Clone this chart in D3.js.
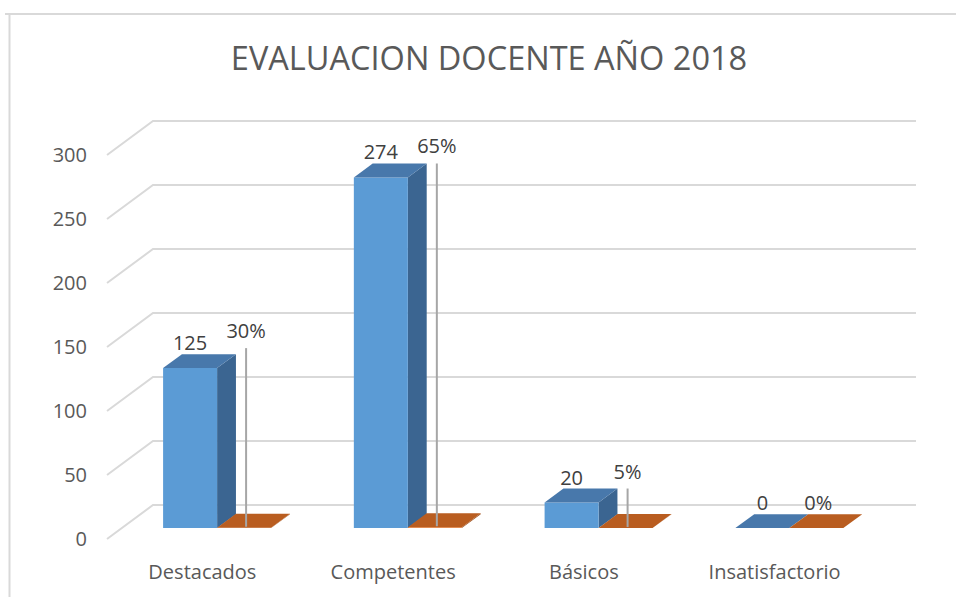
<!DOCTYPE html>
<html>
<head>
<meta charset="utf-8">
<script src="https://cdn.jsdelivr.net/npm/d3@7"></script>
<style>
  html, body { margin: 0; padding: 0; background: #ffffff; }
  svg { display: block; font-family: "Open Sans", "Noto Sans", sans-serif; }
</style>
</head>
<body>
<svg id="chart" width="956" height="597"></svg>
<script>
// Chart data
const categories = ["Destacados", "Competentes", "Básicos", "Insatisfactorio"];
const docentes = [125, 274, 20, 0];
const porcentajes = [0.30, 0.65, 0.05, 0.00];
const yTicks = [0, 50, 100, 150, 200, 250, 300];
const titulo = "EVALUACION DOCENTE AÑO 2018";

// Layout
const W = 956, H = 597;
const DX = 46, DY = 34;          // floor depth projection
const Z0 = 0.32, Z1 = 0.73;      // depth slab occupied by the columns
const BW = 54;                   // column width
const pctLabelLift = [12, 6, 6, 0];

const svg = d3.select("#chart");

const x = d3.scaleBand().domain(categories).range([107, 870]);
const y = d3.scaleLinear().domain([0, 300]).range([539, 155]);

const proj = (xf, v, z) => [xf + z * DX, y(v) - z * DY];
const pts = arr => arr.map(p => p.join(",")).join(" ");

// Chart area border
svg.append("path")
  .attr("d", `M5,14 H${W} M9.5,14 V${H}`)
  .attr("stroke", "#d9d9d9").attr("stroke-width", 2).attr("fill", "none");

// Title
svg.append("text")
  .attr("x", 489).attr("y", 70)
  .attr("text-anchor", "middle")
  .attr("font-size", 32.5).attr("fill", "#595959")
  .text(titulo);

// Gridlines: side wall diagonal + back wall horizontal
const [x0] = x.range();
const xBackRight = x.range()[1] + DX;
svg.append("g").selectAll("polyline")
  .data(yTicks).join("polyline")
  .attr("points", t => pts([proj(x0, t, 0), proj(x0, t, 1), [xBackRight, y(t) - DY]]))
  .attr("fill", "none").attr("stroke", "#d9d9d9").attr("stroke-width", 2);

// Value axis labels
svg.append("g").selectAll("text")
  .data(yTicks).join("text")
  .attr("x", 87).attr("y", t => y(t)).attr("dy", "0.36em")
  .attr("text-anchor", "end")
  .attr("font-size", 20).attr("fill", "#595959")
  .text(d => d);

// Category labels
svg.append("g").selectAll("text")
  .data(categories).join("text")
  .attr("x", c => x(c) + x.bandwidth() / 2).attr("y", 579)
  .attr("text-anchor", "middle")
  .attr("font-size", 20).attr("fill", "#595959")
  .text(c => c);

const series = [
  { values: docentes, front: "#5b9bd5", top: "#4878ab", side: "#3b6591", fmt: d3.format("d") },
  { values: porcentajes, front: "#ed7d31", top: "#b95d20", side: "#9a4a17", fmt: d3.format(".0%") }
];

const barsG = svg.append("g");
categories.forEach((c, i) => {
  series.forEach((s, si) => {
    const v = s.values[i];
    const left = x(c) + x.bandwidth() / 2 - BW + si * BW;
    const right = left + BW;
    const g = barsG.append("g");
    // side face
    g.append("polygon")
      .attr("points", pts([proj(right, 0, Z0), proj(right, v, Z0), proj(right, v, Z1), proj(right, 0, Z1)]))
      .attr("fill", s.side);
    // front face
    g.append("polygon")
      .attr("points", pts([proj(left, 0, Z0), proj(right, 0, Z0), proj(right, v, Z0), proj(left, v, Z0)]))
      .attr("fill", s.front);
    // top face
    g.append("polygon")
      .attr("points", pts([proj(left, v, Z0), proj(right, v, Z0), proj(right, v, Z1), proj(left, v, Z1)]))
      .attr("fill", s.top);
  });
});

// Data labels
const labelsG = svg.append("g");
categories.forEach((c, i) => {
  const left = x(c) + x.bandwidth() / 2 - BW;
  const blueTop = proj(left, docentes[i], Z0)[1];
  const blueX = proj(left + BW / 2, 0, Z0)[0];
  const baseY = blueTop - 18;
  labelsG.append("text")
    .attr("x", blueX).attr("y", baseY)
    .attr("text-anchor", "middle")
    .attr("font-size", 20).attr("fill", "#404040")
    .text(series[0].fmt(docentes[i]));

  const orangeX = proj(left + BW + BW / 2, 0, Z0)[0] + 2;
  const orangeTop = proj(left, porcentajes[i], Z0)[1];
  const pY = baseY - pctLabelLift[i];
  if (orangeTop - (pY + 10) > 20) {
    labelsG.append("line")
      .attr("x1", orangeX).attr("x2", orangeX)
      .attr("y1", pY + 10).attr("y2", orangeTop - 1)
      .attr("stroke", "#a6a6a6").attr("stroke-width", 2);
  }
  labelsG.append("text")
    .attr("x", orangeX).attr("y", pY)
    .attr("text-anchor", "middle")
    .attr("font-size", 20).attr("fill", "#404040")
    .text(series[1].fmt(porcentajes[i]));
});
</script>
</body>
</html>
